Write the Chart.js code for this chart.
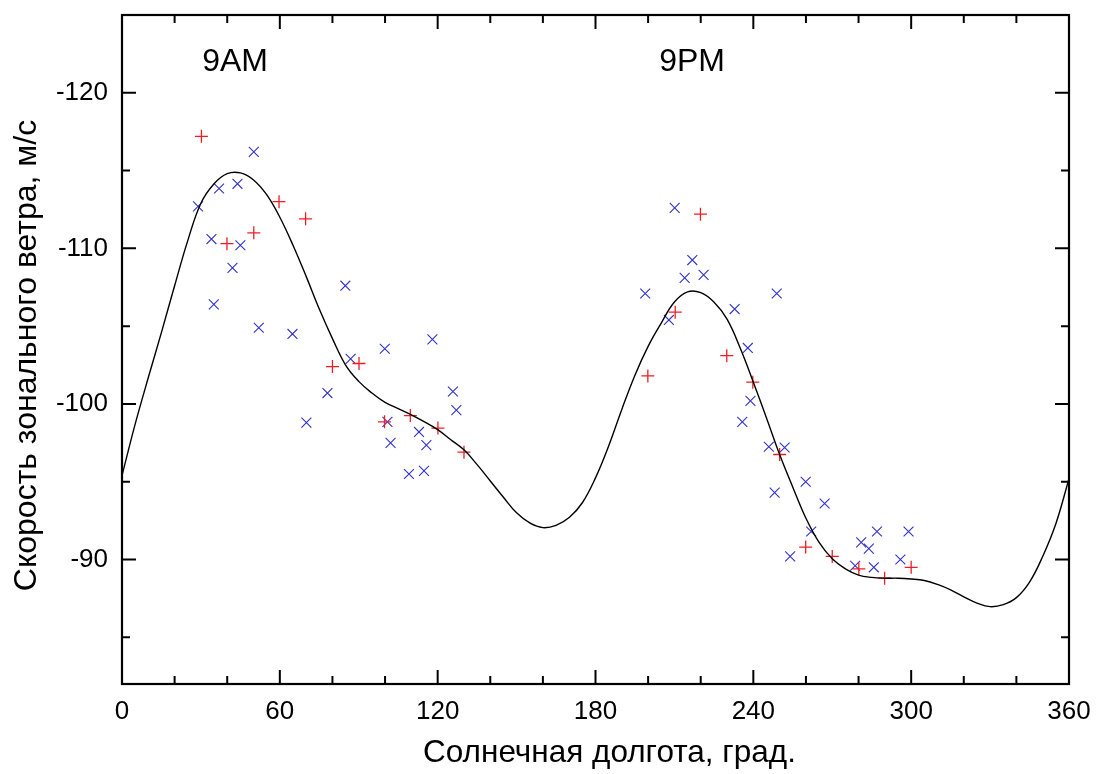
<!DOCTYPE html>
<html><head><meta charset="utf-8">
<script src="https://cdn.jsdelivr.net/npm/chart.js@4"></script>
<style>html,body{margin:0;padding:0;background:#fff}#wrap{width:1096px;height:774px;position:relative}</style>
</head><body><div id="wrap"><canvas id="c"></canvas></div>
<script>
const xTickLabels = [0, 60, 120, 180, 240, 300, 360];
const xMinorTicks = [20, 40, 80, 100, 140, 160, 200, 220, 260, 280, 320, 340];
const yTickLabels = [-120, -110, -100, -90];
const yMinorTicks = [-115, -105, -95, -85];

const xTitle = 'Солнечная долгота, град.';
const yTitle = 'Скорость зонального ветра, м/с';

const plusX = [30.2, 39.9, 50.1, 59.7, 69.8, 80.0, 90.1, 99.8, 109.6, 120.1, 130.0,
  199.9, 210.3, 219.9, 229.9, 239.8, 250.0, 259.9, 270.0, 280.1, 289.9, 300.0];
const plusY = [-117.2, -110.3, -111.0, -113.0, -111.9, -102.4, -102.6, -98.85, -99.25, -98.45, -96.9,
  -101.8, -105.9, -112.2, -103.1, -101.4, -96.75, -90.8, -90.2, -89.4, -88.8, -89.5];

const crossX = [28.9, 34.0, 34.9, 36.9, 42.0, 43.9, 45.0, 50.1, 52.0, 64.8, 70.1, 78.1, 84.9, 86.9,
  99.9, 100.9, 102.1, 109.1, 112.9, 114.8, 115.7, 118.0, 125.8, 127.1,
  198.9, 207.9, 210.1, 213.9, 216.8, 221.1, 232.9, 235.8, 237.9, 238.9, 245.9, 248.1, 248.9, 251.9,
  254.0, 259.9, 262.0, 267.1, 278.7, 281.0, 283.9, 285.8, 287.0, 295.9, 299.0];
const crossY = [-112.7, -110.6, -106.4, -113.85, -108.75, -114.15, -110.2, -116.2, -104.9, -104.5, -98.8, -100.7, -107.6, -102.9,
  -103.55, -98.85, -97.5, -95.5, -98.2, -95.7, -97.35, -104.15, -100.8, -99.6,
  -107.1, -105.4, -112.6, -108.1, -109.25, -108.3, -106.1, -98.85, -103.6, -100.2, -97.25, -94.3, -107.1, -97.2,
  -90.2, -95.0, -91.8, -93.6, -89.6, -91.1, -90.7, -89.5, -91.8, -90.0, -91.8];

const curveX = [0, 5, 10, 15, 20, 25, 30, 35, 40, 45, 50, 55, 60, 65, 70, 75, 80, 85, 90, 95,
  100, 105, 110, 115, 120, 125, 130, 135, 140, 145, 150, 155, 160, 165, 170, 175, 180, 185, 190, 195,
  200, 205, 210, 215, 220, 225, 230, 235, 240, 245, 250, 255, 260, 265, 270, 275, 280, 285, 290, 295,
  300, 305, 310, 315, 320, 325, 330, 335, 340, 345, 350, 355, 360];
const curveY = [-95.4, -98.7, -101.7, -104.6, -107.6, -110.5, -112.9, -114.15, -114.8, -114.85, -114.4, -113.45, -112.0, -110.2, -108.2, -106.1, -104.2, -102.5, -101.45, -100.7,
  -100.1, -99.7, -99.3, -98.85, -98.35, -97.7, -97.05, -96.1, -95.05, -94.0, -93.0, -92.35, -92.05, -92.2, -92.7, -93.65, -95.25, -97.3, -99.65, -101.85,
  -103.7, -105.2, -106.55, -107.2, -107.15, -106.55, -105.45, -103.6, -101.4, -99.1, -96.75, -94.65, -92.65, -91.1, -90.05, -89.4, -89.0, -88.85, -88.8, -88.8,
  -88.75, -88.65, -88.4, -88.05, -87.6, -87.2, -86.97, -87.1, -87.55, -88.55, -90.2, -92.3, -95.2];

const noteText = ['9AM', '9PM'];
const noteX = [43.0, 216.7];
const noteY = [-122, -122];

const FONT = "'Liberation Sans', Arial, sans-serif";

const framePlugin = {
  id: 'frame',
  afterDatasetsDraw(chart) {
    const {ctx, chartArea: a, scales: {x, y}} = chart;
    ctx.save();
    ctx.strokeStyle = '#000';
    ctx.lineWidth = 2.2;
    ctx.strokeRect(a.left, a.top, a.right - a.left, a.bottom - a.top);
    ctx.lineWidth = 2;
    ctx.beginPath();
    const xt = (v, len) => {
      const p = x.getPixelForValue(v);
      ctx.moveTo(p, a.bottom); ctx.lineTo(p, a.bottom - len);
      ctx.moveTo(p, a.top); ctx.lineTo(p, a.top + len);
    };
    const yt = (v, len) => {
      const p = y.getPixelForValue(v);
      ctx.moveTo(a.left, p); ctx.lineTo(a.left + len, p);
      ctx.moveTo(a.right, p); ctx.lineTo(a.right - len, p);
    };
    xTickLabels.forEach(v => xt(v, 14));
    xMinorTicks.forEach(v => xt(v, 8));
    yTickLabels.forEach(v => yt(v, 14));
    yMinorTicks.forEach(v => yt(v, 8));
    ctx.stroke();
    ctx.fillStyle = '#000';
    ctx.textAlign = 'center';
    ctx.textBaseline = 'middle';
    ctx.font = '32px ' + FONT;
    noteText.forEach((t, i) => ctx.fillText(t, x.getPixelForValue(noteX[i]), y.getPixelForValue(noteY[i])));
    // axis titles
    ctx.font = '31.5px ' + FONT;
    ctx.fillText(xTitle, (a.left + a.right) / 2 + 14, a.bottom + 69);
    ctx.save();
    ctx.font = '32px ' + FONT;
    ctx.translate(27, (a.top + a.bottom) / 2 + 6);
    ctx.rotate(-Math.PI / 2);
    ctx.fillText(yTitle, 0, 0);
    ctx.restore();
    ctx.restore();
  }
};

new Chart(document.getElementById('c'), {
  type: 'scatter',
  data: {
    datasets: [
      {
        type: 'line', label: 'fit',
        data: curveX.map((v, i) => ({x: v, y: curveY[i]})),
        borderColor: '#000', borderWidth: 1.4, pointRadius: 0,
        tension: 0.4, fill: false, order: 1
      },
      {
        label: 'plus',
        data: plusX.map((v, i) => ({x: v, y: plusY[i]})),
        pointStyle: 'cross', pointRadius: 6.5, pointHoverRadius: 6.5,
        borderColor: 'rgb(240,30,35)', backgroundColor: 'rgb(240,30,35)', borderWidth: 1.3, order: 2
      },
      {
        label: 'cross',
        data: crossX.map((v, i) => ({x: v, y: crossY[i]})),
        pointStyle: 'crossRot', pointRadius: 7, pointHoverRadius: 7,
        borderColor: 'rgb(50,50,205)', backgroundColor: 'rgb(50,50,205)', borderWidth: 1.1, order: 3
      }
    ]
  },
  options: {
    responsive: true, maintainAspectRatio: false, animation: false,
    layout: {padding: {left: 0, right: 27, top: 15, bottom: 0}},
    plugins: {legend: {display: false}, tooltip: {enabled: false}},
    scales: {
      x: {
        type: 'linear', min: 0, max: 360,
        grid: {display: false, drawTicks: false}, border: {display: false},
        afterBuildTicks: s => { s.ticks = xTickLabels.map(v => ({value: v})); },
        afterFit: s => { s.height = 90; s.paddingLeft = 0; s.paddingRight = 0; },
        ticks: {font: {family: FONT, size: 26}, color: '#000', padding: 12, maxRotation: 0, autoSkip: false},
        title: {display: false}
      },
      y: {
        type: 'linear', reverse: true, min: -125, max: -82,
        grid: {display: false, drawTicks: false}, border: {display: false},
        afterBuildTicks: s => { s.ticks = yTickLabels.map(v => ({value: v})); },
        afterFit: s => { s.width = 122; s.paddingTop = 0; s.paddingBottom = 0; },
        ticks: {font: {family: FONT, size: 26}, color: '#000', padding: 14, autoSkip: false},
        title: {display: false}
      }
    }
  },
  plugins: [framePlugin]
});
</script>
</body></html>
